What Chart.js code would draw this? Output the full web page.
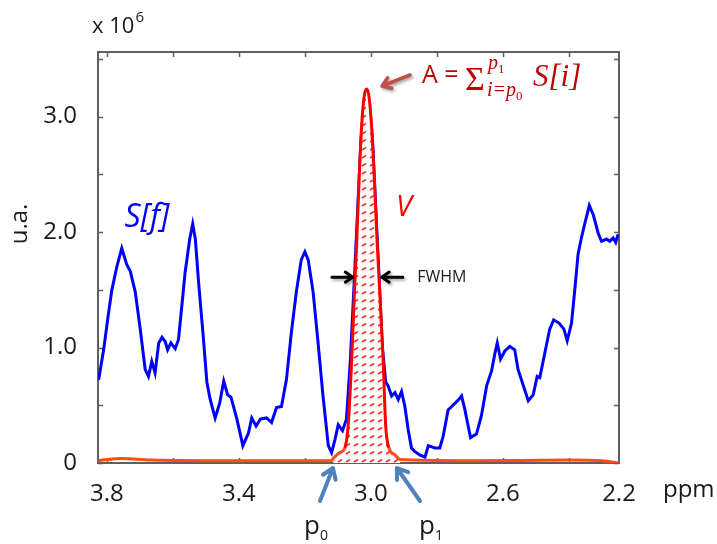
<!DOCTYPE html>
<html>
<head>
<meta charset="utf-8">
<script src="https://cdn.jsdelivr.net/npm/chart.js@4"></script>
<style>
  html, body { margin: 0; padding: 0; background: #fff; }
</style>
</head>
<body>
<canvas id="chart" width="717" height="544"></canvas>
<script>
// MRS spectrum S[f] with fitted peak V (ppm axis reversed, values x 10^6)

const specPpm = [3.825, 3.81, 3.795, 3.785, 3.77, 3.755, 3.74, 3.729, 3.714, 3.699, 3.684, 3.674, 3.664, 3.654,
  3.643, 3.633, 3.623, 3.616, 3.606, 3.593, 3.583, 3.573, 3.563, 3.549, 3.54, 3.532, 3.522, 3.509, 3.497, 3.487,
  3.472, 3.458, 3.446, 3.434, 3.424, 3.406, 3.388, 3.371, 3.361, 3.348, 3.335, 3.316, 3.301, 3.286, 3.271, 3.256,
  3.241, 3.226, 3.211, 3.2, 3.19, 3.175, 3.16, 3.145, 3.129, 3.119, 3.109, 3.099, 3.086, 3.074, 3.062, 3.05, 3.04,
  3.03, 3.02, 3.012, 3.004, 2.995, 2.985, 2.975, 2.965, 2.955, 2.948, 2.937, 2.927, 2.917, 2.907, 2.897, 2.887,
  2.877, 2.867, 2.852, 2.836, 2.826, 2.806, 2.791, 2.781, 2.766, 2.751, 2.737, 2.725, 2.715, 2.698, 2.68, 2.665,
  2.649, 2.634, 2.624, 2.617, 2.607, 2.594, 2.579, 2.564, 2.554, 2.539, 2.523, 2.508, 2.496, 2.488, 2.473, 2.458,
  2.446, 2.429, 2.415, 2.405, 2.392, 2.382, 2.372, 2.362, 2.352, 2.338, 2.326, 2.311, 2.301, 2.286, 2.276, 2.266,
  2.258, 2.251];
const specVal = [0.72, 0.98, 1.30, 1.50, 1.70, 1.86, 1.72, 1.66, 1.48, 1.16, 0.81, 0.75, 0.88, 0.78,
  1.04, 1.09, 1.05, 0.98, 1.04, 0.99, 1.07, 1.36, 1.65, 1.94, 2.07, 1.94, 1.56, 1.13, 0.70, 0.55,
  0.39, 0.52, 0.71, 0.59, 0.57, 0.38, 0.15, 0.26, 0.39, 0.32, 0.38, 0.39, 0.35, 0.48, 0.49, 0.72,
  1.13, 1.48, 1.76, 1.83, 1.76, 1.48, 1.04, 0.58, 0.15, 0.09, 0.20, 0.33, 0.28, 0.38, 0.90, 1.60, 2.20,
  2.80, 3.15, 3.20, 3.10, 2.80, 2.20, 1.60, 1.00, 0.70, 0.67, 0.58, 0.61, 0.55, 0.62, 0.49, 0.29,
  0.13, 0.10, 0.07, 0.05, 0.15, 0.13, 0.13, 0.23, 0.46, 0.50, 0.54, 0.58, 0.46, 0.22, 0.25, 0.41,
  0.67, 0.80, 0.95, 1.04, 0.90, 0.97, 1.01, 0.98, 0.81, 0.68, 0.54, 0.59, 0.75, 0.74, 0.95, 1.16,
  1.24, 1.21, 1.16, 1.06, 1.21, 1.50, 1.81, 1.95, 2.07, 2.23, 2.15, 1.99, 1.92, 1.94, 1.92, 1.95,
  1.91, 1.98];

const fitPpm = [3.827, 3.8, 3.76, 3.72, 3.66, 3.5, 3.3, 3.12, 3.114, 3.094, 3.079, 3.069, 3.058, 3.05, 3.043,
  3.035, 3.028, 3.02, 3.013, 3.006, 2.998, 2.99, 2.981, 2.973, 2.963, 2.955, 2.945, 2.927, 2.912, 2.7, 2.4,
  2.3, 2.248];
const fitVal = [0.02, 0.03, 0.04, 0.035, 0.025, 0.02, 0.02, 0.02, 0.04, 0.09, 0.13, 0.32, 0.90, 1.47, 1.91,
  2.49, 2.92, 3.18, 3.24, 3.18, 2.92, 2.49, 1.91, 1.47, 0.90, 0.32, 0.13, 0.07, 0.03, 0.02, 0.025,
  0.02, 0.0];

const xTickValues = [3.8, 3.6, 3.4, 3.2, 3.0, 2.8, 2.6, 2.4];
const xTickLabels = ['3.8', '', '3.4', '', '3.0', '', '2.6', ''];
const xEndLabel = '2.2';
const yTickValues = [0, 0.5, 1.0, 1.5, 2.0, 2.5, 3.0, 3.5];
const yTickLabels = ['0', '', '1.0', '', '2.0', '', '3.0', ''];

// integration limits p0, p1 (ppm)
const limits = [3.115, 2.912];

const X_MIN = 2.248, X_MAX = 3.827;
const TXT = '#1a1a1a';
const FONT = '"Open Sans", sans-serif';
const SERIF = '"Liberation Serif", serif';

function hatchPattern() {
  const c = document.createElement('canvas');
  c.width = 8; c.height = 8;
  const g = c.getContext('2d');
  g.fillStyle = '#fff';
  g.fillRect(0, 0, 8, 8);
  g.strokeStyle = '#ff2a2a';
  g.lineWidth = 1.5;
  g.beginPath(); g.moveTo(2, 6); g.lineTo(6, 3.5); g.stroke();
  return g.createPattern(c, 'repeat');
}
const hatch = hatchPattern();

function arrow(ctx, x1, y1, x2, y2, color, width, head, shadow) {
  const ang = Math.atan2(y2 - y1, x2 - x1);
  ctx.save();
  if (shadow) {
    ctx.shadowColor = 'rgba(0,0,0,0.35)';
    ctx.shadowBlur = 3; ctx.shadowOffsetX = 1.5; ctx.shadowOffsetY = 2;
  }
  ctx.strokeStyle = color;
  ctx.lineWidth = width;
  ctx.lineCap = 'round'; ctx.lineJoin = 'round';
  ctx.beginPath();
  ctx.moveTo(x1, y1); ctx.lineTo(x2, y2);
  ctx.moveTo(x2 - head * Math.cos(ang - 0.6), y2 - head * Math.sin(ang - 0.6));
  ctx.lineTo(x2, y2);
  ctx.lineTo(x2 - head * Math.cos(ang + 0.6), y2 - head * Math.sin(ang + 0.6));
  ctx.stroke();
  ctx.restore();
}

// box + inward tick marks, matlab style
const frame = {
  id: 'frame',
  beforeDatasetsDraw(chart) {
    const {ctx, chartArea: a, scales: {x, y}} = chart;
    ctx.save();
    ctx.strokeStyle = '#5f5f5f';
    ctx.lineWidth = 1.5;
    ctx.beginPath();
    xTickValues.forEach(v => {
      const px = Math.round(x.getPixelForValue(v)) + 0.5;
      ctx.moveTo(px, a.bottom); ctx.lineTo(px, a.bottom - 5);
      ctx.moveTo(px, a.top); ctx.lineTo(px, a.top + 5);
    });
    yTickValues.forEach(v => {
      const py = Math.round(y.getPixelForValue(v)) + 0.5;
      ctx.moveTo(a.left, py); ctx.lineTo(a.left + 5, py);
      ctx.moveTo(a.right, py); ctx.lineTo(a.right - 5, py);
    });
    ctx.stroke();
    ctx.lineWidth = 2;
    ctx.strokeRect(a.left, a.top, a.right - a.left, a.bottom - a.top);
    ctx.restore();
  }
};

const notes = {
  id: 'notes',
  afterDraw(chart) {
    const {ctx, scales: {x, y}} = chart;
    ctx.save();
    ctx.fillStyle = TXT;
    ctx.textAlign = 'left';
    ctx.textBaseline = 'alphabetic';
    ctx.font = '22px ' + FONT;
    ctx.fillText('x 10', 92, 33);
    let w = ctx.measureText('x 10').width;
    ctx.font = '15px ' + FONT;
    ctx.fillText('6', 92 + w + 1, 22);

    ctx.save();
    ctx.translate(20, 224);
    ctx.rotate(-Math.PI / 2);
    ctx.textAlign = 'center';
    ctx.textBaseline = 'middle';
    ctx.font = '24px ' + FONT;
    ctx.fillText('u.a.', 0, 0);
    ctx.restore();

    ctx.font = '24px ' + FONT;
    ctx.fillText('ppm', 663, 497);

    // series labels
    ctx.textAlign = 'center';
    ctx.textBaseline = 'middle';
    ctx.fillStyle = '#0000ff';
    ctx.font = 'italic 32px ' + FONT;
    ctx.fillText('S[f]', x.getPixelForValue(3.679), y.getPixelForValue(2.12));
    ctx.fillStyle = '#ff0000';
    ctx.font = 'italic 29px ' + FONT;
    ctx.fillText('V', x.getPixelForValue(2.9), y.getPixelForValue(2.21));

    // FWHM
    const fy = y.getPixelForValue(1.61);
    ctx.fillStyle = TXT;
    ctx.font = '16px ' + FONT;
    ctx.fillText('FWHM', x.getPixelForValue(2.785), fy);
    arrow(ctx, x.getPixelForValue(3.118), fy, x.getPixelForValue(3.055), fy, '#000', 3, 9, true);
    arrow(ctx, x.getPixelForValue(2.903), fy, x.getPixelForValue(2.967), fy, '#000', 3, 9, true);

    // area formula
    ctx.textAlign = 'left';
    ctx.textBaseline = 'alphabetic';
    ctx.fillStyle = '#c00000';
    ctx.font = '25px ' + FONT;
    ctx.fillText('A =', 422, 83);
    ctx.font = '34px ' + SERIF;
    ctx.fillText('\u03A3', 465, 90);
    ctx.font = 'italic 20px ' + SERIF;
    ctx.fillText('p', 488, 69);
    let wp = ctx.measureText('p').width;
    ctx.fillText('i=p', 487, 96);
    let wi = ctx.measureText('i=p').width;
    ctx.font = '13px ' + SERIF;
    ctx.fillText('1', 488 + wp, 73);
    ctx.fillText('0', 487 + wi, 100);
    ctx.font = 'italic 31px ' + SERIF;
    ctx.fillText('S[i]', 533, 86);
    arrow(ctx, 410, 75, 382, 86, '#c0504d', 3.5, 10, true);

    // integration limits
    arrow(ctx, 320, 501, x.getPixelForValue(limits[0]), 468, '#4f81bd', 4, 12, false);
    arrow(ctx, 420, 501, x.getPixelForValue(limits[1]) - 3, 468, '#4f81bd', 4, 12, false);
    ctx.fillStyle = TXT;
    ctx.font = '26px ' + FONT;
    ctx.fillText('p', 304, 534);
    ctx.fillText('p', 419, 534);
    ctx.font = '14px ' + FONT;
    ctx.fillText('0', 320, 540);
    ctx.fillText('1', 435, 540);
    ctx.restore();
  }
};

const ctx = document.getElementById('chart').getContext('2d');

const inPeak = c => c.p0.parsed.x <= limits[0] && c.p1.parsed.x >= limits[1];

new Chart(ctx, {
  type: 'line',
  data: {
    datasets: [
      {
        label: 'V',
        data: fitPpm.map((p, i) => ({x: p, y: fitVal[i]})),
        borderColor: '#ff0000',
        borderWidth: 3,
        backgroundColor: 'rgba(0,0,0,0)',
        fill: 'origin',
        pointRadius: 0,
        cubicInterpolationMode: 'monotone',
        segment: {
          borderColor: c => (c.p0.parsed.y > 0.2 || c.p1.parsed.y > 0.2) ? '#ff0000' : '#ff4a1c',
          backgroundColor: c => inPeak(c) ? hatch : 'rgba(0,0,0,0)'
        },
        order: 0
      },
      {
        label: 'S[f]',
        data: specPpm.map((p, i) => ({x: p, y: specVal[i]})),
        borderColor: '#0000ff',
        borderWidth: 3,
        pointRadius: 0,
        tension: 0,
        fill: false,
        order: 1
      }
    ]
  },
  options: {
    responsive: false,
    animation: false,
    layout: { padding: { top: 52, right: 98, left: 0, bottom: 0 } },
    plugins: { legend: { display: false }, tooltip: { enabled: false } },
    scales: {
      x: {
        type: 'linear',
        reverse: true,
        min: X_MIN,
        max: X_MAX,
        grid: { display: false },
        border: { display: false },
        afterBuildTicks(scale) {
          scale.ticks = xTickValues.map(v => ({value: v})).concat([{value: X_MIN}]);
        },
        afterFit(scale) { scale.height = 81; },
        ticks: {
          autoSkip: false,
          maxRotation: 0,
          padding: 9,
          color: TXT,
          font: { family: FONT, size: 24 },
          callback: (v, i) => i < xTickLabels.length ? xTickLabels[i] : xEndLabel
        }
      },
      y: {
        min: 0,
        max: 3.56,
        grid: { display: false },
        border: { display: false },
        afterBuildTicks(scale) {
          scale.ticks = yTickValues.map(v => ({value: v}));
        },
        afterFit(scale) { scale.width = 98; },
        ticks: {
          autoSkip: false,
          padding: 13,
          color: TXT,
          font: { family: FONT, size: 24 },
          callback: (v, i) => yTickLabels[i]
        }
      }
    }
  },
  plugins: [frame, notes]
});
</script>
</body>
</html>
